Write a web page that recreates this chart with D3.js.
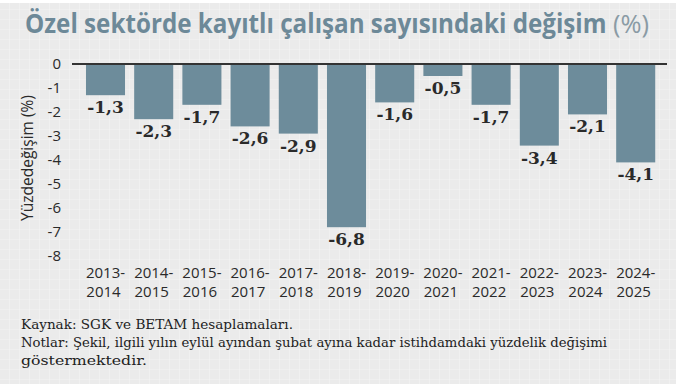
<!DOCTYPE html>
<html lang="tr">
<head>
  <meta charset="UTF-8">
  <title>Özel sektörde kayıtlı çalışan sayısındaki değişim</title>
  <script src="https://d3js.org/d3.v7.min.js"></script>
  <style>
    body { margin: 0; background: #fff; }
    .tick text { font-family: "Open Sans", sans-serif; font-size: 15px; fill: #2a2a2a; }
  </style>
</head>
<body>
<svg id="chart" width="684" height="384"></svg>
<script>
// data
const periodStart = ["2013", "2014", "2015", "2016", "2017", "2018", "2019", "2020", "2021", "2022", "2023", "2024"];
const periodEnd   = ["2014", "2015", "2016", "2017", "2018", "2019", "2020", "2021", "2022", "2023", "2024", "2025"];
const changes = [-1.3, -2.3, -1.7, -2.6, -2.9, -6.8, -1.6, -0.5, -1.7, -3.4, -2.1, -4.1];
const yTicks = [0, -1, -2, -3, -4, -5, -6, -7, -8];

const data = periodStart.map((s, i) => ({ label: s + "-" + periodEnd[i], start: s, end: periodEnd[i], value: changes[i] }));

const svg = d3.select("#chart");

// background panel with faint grid
const defs = svg.append("defs");
const pat = defs.append("pattern")
  .attr("id", "grid")
  .attr("width", 10).attr("height", 10)
  .attr("patternUnits", "userSpaceOnUse");
pat.append("rect").attr("width", 10).attr("height", 10).attr("fill", "#ebebeb");
pat.append("path").attr("d", "M10 0V10M0 10H10").attr("stroke", "#f4f4f4").attr("stroke-width", 1.2);

svg.append("rect")
  .attr("x", 0).attr("y", 3)
  .attr("width", 676).attr("height", 381)
  .attr("fill", "url(#grid)");

// title: squeeze each part horizontally to its width in the picture
function fitText(txt, x0, w, bold, color) {
  const t = svg.append("text")
    .style("font-family", "'Open Sans', sans-serif")
    .style("font-size", "26px")
    .style("font-weight", bold ? "bold" : "normal")
    .attr("fill", color)
    .text(txt);
  const nat = t.node().getComputedTextLength();
  t.attr("transform", `translate(${x0},33) scale(${w / nat},1)`);
}
fitText("Özel sektörde kayıtlı çalışan sayısındaki değişim", 25, 582, true, "#6d8998");
fitText("(%)", 613, 36, false, "#8a9ba5");

// scales
const x = d3.scaleBand()
  .domain(data.map(d => d.label))
  .range([81.4, 659.8])
  .paddingInner(0.19)
  .paddingOuter(0.095);

const y = d3.scaleLinear()
  .domain([0, -8])
  .range([64, 256]);

// y axis
svg.append("g")
  .attr("transform", "translate(63,0)")
  .call(d3.axisLeft(y).tickValues(yTicks).tickSize(0).tickPadding(2).tickFormat(d => String(d)))
  .call(g => g.select(".domain").remove());

svg.append("text")
  .attr("transform", "translate(33,158) rotate(-90)")
  .attr("text-anchor", "middle")
  .style("font-family", "'Open Sans', sans-serif")
  .style("font-size", "15.5px")
  .attr("fill", "#2a2a2a")
  .text("Yüzdedeğişim (%)");

// bars
svg.append("g")
  .selectAll("rect")
  .data(data)
  .join("rect")
    .attr("x", d => x(d.label))
    .attr("y", y(0))
    .attr("width", x.bandwidth())
    .attr("height", d => y(d.value) - y(0))
    .attr("fill", "#6d8c9b");

// zero line
svg.append("line")
  .attr("x1", 72).attr("x2", 667)
  .attr("y1", y(0)).attr("y2", y(0))
  .attr("stroke", "#333")
  .attr("stroke-width", 2);

// value labels
svg.append("g")
  .selectAll("text")
  .data(data)
  .join("text")
    .attr("x", d => x(d.label) + x.bandwidth() / 2)
    .attr("y", d => y(d.value) + 18)
    .attr("text-anchor", "middle")
    .style("font-family", "'DejaVu Serif', serif")
    .style("font-weight", "bold")
    .style("font-size", "17px")
    .attr("fill", "#2a2a2a")
    .text(d => String(d.value).replace(".", ","));

// x labels (two lines)
const xl = svg.append("g")
  .selectAll("text")
  .data(data)
  .join("text")
    .attr("text-anchor", "middle")
    .style("font-family", "'Open Sans', sans-serif")
    .style("font-size", "15px")
    .attr("fill", "#2a2a2a");
xl.append("tspan")
  .attr("x", d => x(d.label) + x.bandwidth() / 2)
  .attr("y", 278)
  .text(d => d.start + "-");
xl.append("tspan")
  .attr("x", d => x(d.label) + x.bandwidth() / 2 - 2)
  .attr("y", 297)
  .text(d => d.end);

// notes
const notes = [
  "Kaynak:  SGK ve BETAM hesaplamaları.",
  "Notlar: Şekil, ilgili yılın eylül ayından şubat ayına kadar istihdamdaki yüzdelik değişimi",
  "göstermektedir."
];
const noteWidths = [272, 586, 126];
svg.append("g")
  .selectAll("text")
  .data(notes)
  .join("text")
    .attr("x", 21)
    .attr("y", (d, i) => 329 + i * 18)
    .attr("textLength", (d, i) => noteWidths[i])
    .attr("lengthAdjust", "spacingAndGlyphs")
    .style("font-family", "'DejaVu Serif', serif")
    .style("font-size", "13px")
    .attr("fill", "#222")
    .text(d => d);
</script>
</body>
</html>
